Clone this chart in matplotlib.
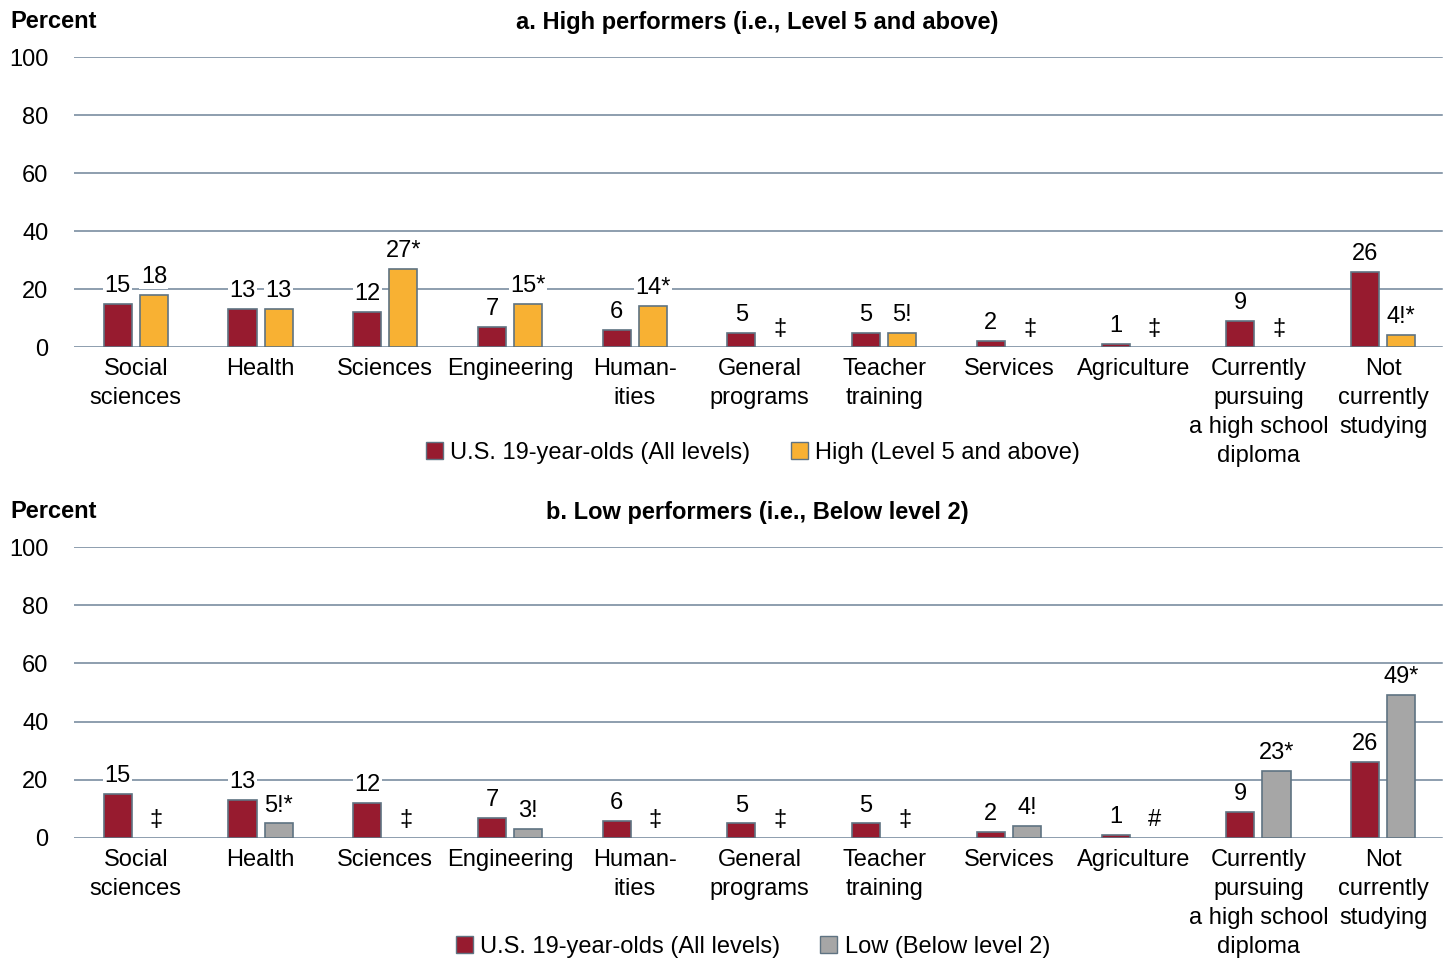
import numpy as np
import matplotlib
matplotlib.use("Agg")
import matplotlib.pyplot as plt
from matplotlib.patches import Patch

plt.rcParams['font.family'] = ['Liberation Sans', 'DejaVu Sans']

categories = ["Social\nsciences", "Health", "Sciences", "Engineering", "Human-\nities",
              "General\nprograms", "Teacher\ntraining", "Services", "Agriculture",
              "Currently\npursuing\na high school\ndiploma", "Not\ncurrently\nstudying"]

all_levels = [15, 13, 12, 7, 6, 5, 5, 2, 1, 9, 26]
all_labels = ["15", "13", "12", "7", "6", "5", "5", "2", "1", "9", "26"]

high = [18, 13, 27, 15, 14, np.nan, 5, np.nan, np.nan, np.nan, 4]
high_labels = ["18", "13", "27*", "15*", "14*", "‡", "5!", "‡", "‡", "‡", "4!*"]

low = [np.nan, 5, np.nan, 3, np.nan, np.nan, np.nan, 4, np.nan, 23, 49]
low_labels = ["‡", "5!*", "‡", "3!", "‡", "‡", "‡", "4!", "#", "23*", "49*"]

yticks = [0, 20, 40, 60, 80, 100]

RED = "#971B2F"
ORANGE = "#F8B133"
GRAY = "#A6A6A6"
EDGE = "#5F7382"
GRID = "#6F8498"
FS = 17

fig = plt.figure(figsize=(14.48, 9.6), dpi=100)

W = 1448.0
H = 960.0
AX_L = 73.5
AX_W = 1372.0


def panel(top_px, bottom_px, series, labels, color, title, legend_name, legend_y):
    ax = fig.add_axes([AX_L / W, 1 - bottom_px / H, AX_W / W, (bottom_px - top_px) / H])
    x = np.arange(len(categories))
    off = 0.145
    bw = 0.225
    ax.set_xlim(-0.5, len(categories) - 0.5)
    ax.set_ylim(0, 100)
    for yv in yticks:
        ax.axhline(yv, xmax=(1442 - AX_L) / AX_W, color=GRID, lw=1.1, zorder=0)
    ax.bar(x - off, all_levels, bw, color=RED, edgecolor=EDGE, lw=1.2, zorder=2)
    vals = np.array(series, dtype=float)
    ok = ~np.isnan(vals)
    ax.bar(x[ok] + off, vals[ok], bw, color=color, edgecolor=EDGE, lw=1.2, zorder=2)
    bbox = dict(facecolor="white", edgecolor="none", pad=1.0)
    for i in range(len(categories)):
        ax.annotate(all_labels[i], (x[i] - off, all_levels[i]), xytext=(0, 5),
                    textcoords="offset points", ha="center", va="bottom",
                    fontsize=FS, bbox=bbox, zorder=3)
        v = vals[i]
        h = 0 if np.isnan(v) else v
        ax.annotate(labels[i], (x[i] + off + (0.02 if np.isnan(v) else 0), h),
                    xytext=(0, 5), textcoords="offset points", ha="center",
                    va="bottom", fontsize=FS, bbox=bbox, zorder=3)
    ax.set_xticks(x)
    ax.set_xticklabels(categories, fontsize=FS, linespacing=1.4)
    ax.set_yticks(yticks)
    ax.set_yticklabels([str(t) for t in yticks], fontsize=FS)
    ax.tick_params(axis="both", length=0)
    ax.tick_params(axis="y", pad=18)
    ax.tick_params(axis="x", pad=8)
    for s in ax.spines.values():
        s.set_visible(False)
    fig.text(10 / W, 1 - (top_px - 35) / H, "Percent", fontsize=FS, fontweight="bold",
             ha="left", va="center")
    fig.text(757 / W, 1 - (top_px - 35) / H, title, fontsize=FS,
             fontweight="bold", ha="center", va="center")
    handles = [Patch(facecolor=RED, edgecolor=EDGE, lw=1.0, label="U.S. 19-year-olds (All levels)"),
               Patch(facecolor=color, edgecolor=EDGE, lw=1.0, label=legend_name)]
    fig.legend(handles=handles, loc="center", bbox_to_anchor=(753 / W, 1 - legend_y / H),
               ncol=2, frameon=False, fontsize=FS, handlelength=0.72, handleheight=0.72,
               handletextpad=0.3, columnspacing=1.7, borderpad=0)
    return ax


panel(57, 347, high, high_labels, ORANGE,
      "a. High performers (i.e., Level 5 and above)", "High (Level 5 and above)", 453)
panel(547, 838, low, low_labels, GRAY,
      "b. Low performers (i.e., Below level 2)", "Low (Below level 2)", 947)

fig.savefig("out.png", dpi=100)
